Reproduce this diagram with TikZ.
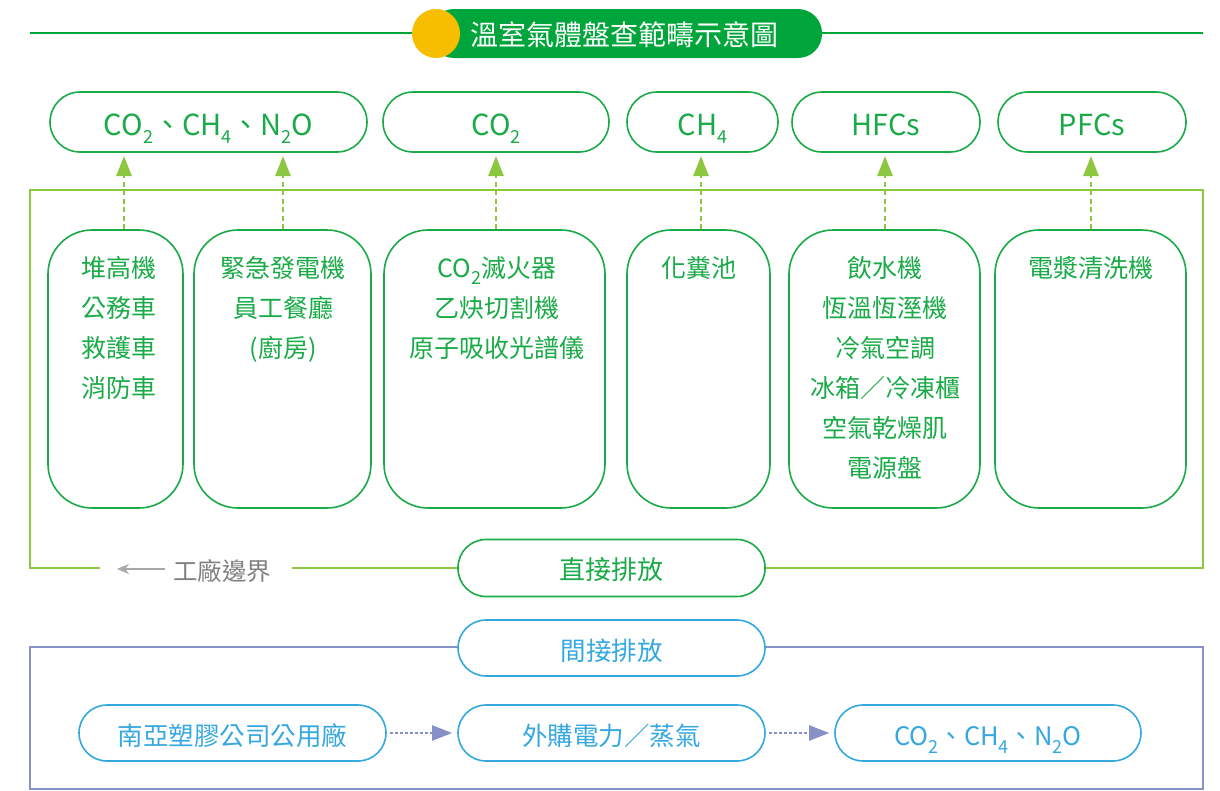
\documentclass[tikz,border=0pt]{standalone}
\usepackage{fontspec}
\setmainfont{Noto Sans CJK TC}
\usetikzlibrary{arrows.meta}
\definecolor{dg}{HTML}{1AAA48}
\definecolor{bannerg}{HTML}{00A63C}
\definecolor{byellow}{HTML}{F7BE00}
\definecolor{lime}{HTML}{8DC63F}
\definecolor{sky}{HTML}{35A8DF}
\definecolor{lav}{HTML}{8890C8}
\definecolor{tgray}{HTML}{808080}
\definecolor{agray}{HTML}{A8A8A8}
\newcommand\sbx[1]{\raisebox{-0.55ex}{\fontsize{18}{18}\selectfont #1}}
\tikzset{
  topbox/.style={draw=dg, line width=1.6pt, rounded corners=30pt, fill=white, text=dg,
    minimum height=60pt, inner sep=0pt, font=\fontsize{29}{29}\selectfont,
    text height=26pt, text depth=0pt},
  tallbox/.style={draw=dg, line width=1.6pt, rounded corners=44pt, fill=white,
    minimum height=278pt, inner sep=0pt},
  listtext/.style={text=dg, align=center, anchor=north, inner sep=0pt,
    font=\fontsize{25}{40}\selectfont},
  bluebox/.style={draw=sky, line width=1.6pt, rounded corners=28pt, fill=white, text=sky,
    minimum height=56pt, inner sep=0pt, font=\fontsize{25.5}{25.5}\selectfont,
    text height=25pt, text depth=0pt},
  uparrow/.style={draw=lime, line width=2.6pt, dash pattern=on 5pt off 3.5pt,
    -{Triangle[width=15pt,length=20pt]}},
  rarrow/.style={draw=lav, line width=2.2pt, dash pattern=on 3pt off 2pt,
    -{Triangle[width=15pt,length=20pt]}}
}
\begin{document}
\begin{tikzpicture}[x=1pt,y=-1pt]
\useasboundingbox (0,0) rectangle (1220,790);
% title banner
\draw[bannerg, line width=1.5pt] (30,33) -- (1203,33);
\fill[bannerg, rounded corners=24pt] (430,9) rectangle (822,58);
\fill[byellow] (436,33.5) ellipse (24pt and 24.5pt);
\node[text=white, inner sep=0pt, font=\fontsize{28}{28}\selectfont] (title) at (624,35) {溫室氣體盤查範疇示意圖};
% top gas nodes
\node[topbox, minimum width=317pt] (t1) at (208.5,122) {CO\sbx{2}、CH\sbx{4}、N\sbx{2}O};
\node[topbox, minimum width=226pt] (t2) at (496,122) {CO\sbx{2}};
\node[topbox, minimum width=151pt] (t3) at (702.5,122) {CH\sbx{4}};
\node[topbox, minimum width=188pt] (t4) at (886,122) {HFCs};
\node[topbox, minimum width=188pt] (t5) at (1092,122) {PFCs};
% factory boundary
\draw[lime, line width=1.5pt] (100,568) -- (30,568) -- (30,190) -- (1203,190) -- (1203,568) -- (765,568);
\draw[lime, line width=1.5pt] (292,568) -- (458,568);
\coordinate (bstart) at (165,569);
\coordinate (bend) at (117,569);
\draw[agray, line width=1.6pt, -{Stealth[width=10pt,length=12pt]}] (bstart) -- (bend);
\node[text=tgray, inner sep=0pt, anchor=west, font=\fontsize{24.5}{24.5}\selectfont] (blabel) at (173,571) {工廠邊界};
% source boxes
\node[tallbox, minimum width=135pt] (b1) at (115.5,369) {};
\node[tallbox, minimum width=177pt] (b2) at (282.5,369) {};
\node[tallbox, minimum width=221pt] (b3) at (494.5,369) {};
\node[tallbox, minimum width=143pt] (b4) at (698.5,369) {};
\node[tallbox, minimum width=191pt] (b5) at (884.5,369) {};
\node[tallbox, minimum width=191pt] (b6) at (1090.5,369) {};
\node[listtext] (l1) at (119,256) {堆高機\\公務車\\救護車\\消防車};
\node[listtext] (l2) at (283,256) {緊急發電機\\員工餐廳\\(廚房)};
\node[listtext] (l3) at (497,256) {CO\sbx{2}滅火器\\乙炔切割機\\原子吸收光譜儀};
\node[listtext] (l4) at (699,256) {化糞池};
\node[listtext] (l5) at (885,256) {飲水機\\恆溫恆溼機\\冷氣空調\\冰箱／冷凍櫃\\空氣乾燥肌\\電源盤};
\node[listtext] (l6) at (1091,256) {電漿清洗機};
% up arrows
\coordinate (a1s) at (124,229); \coordinate (a1e) at (124,156);
\coordinate (a2s) at (283,229); \coordinate (a2e) at (283,156);
\coordinate (a3s) at (496,229); \coordinate (a3e) at (496,156);
\coordinate (a4s) at (701,229); \coordinate (a4e) at (701,156);
\coordinate (a5s) at (885,229); \coordinate (a5e) at (885,156);
\coordinate (a6s) at (1091,229); \coordinate (a6e) at (1091,156);
\draw[uparrow] (a1s) -- (a1e);
\draw[uparrow] (a2s) -- (a2e);
\draw[uparrow] (a3s) -- (a3e);
\draw[uparrow] (a4s) -- (a4e);
\draw[uparrow] (a5s) -- (a5e);
\draw[uparrow] (a6s) -- (a6e);
% direct emission
\node[topbox, minimum width=307pt, minimum height=57pt, rounded corners=28pt, font=\fontsize{26}{26}\selectfont, text height=22pt] (direct) at (611.5,568) {直接排放};
% indirect box
\draw[lav, line width=1.5pt] (30,647) rectangle (1203,789);
\node[bluebox, minimum width=307pt] (indirect) at (611.5,648) {間接排放};
\node[bluebox, minimum width=307pt] (s1) at (232.5,733) {南亞塑膠公司公用廠};
\node[bluebox, minimum width=307pt] (s2) at (611.5,733) {外購電力／蒸氣};
\node[bluebox, minimum width=306pt] (s3) at (988,733) {CO\sbx{2}、CH\sbx{4}、N\sbx{2}O};
\draw[rarrow] ([xshift=3pt]s1.east) -- ([xshift=-5pt]s2.west);
\draw[rarrow] ([xshift=3pt]s2.east) -- ([xshift=-5pt]s3.west);
\end{tikzpicture}
\end{document}
